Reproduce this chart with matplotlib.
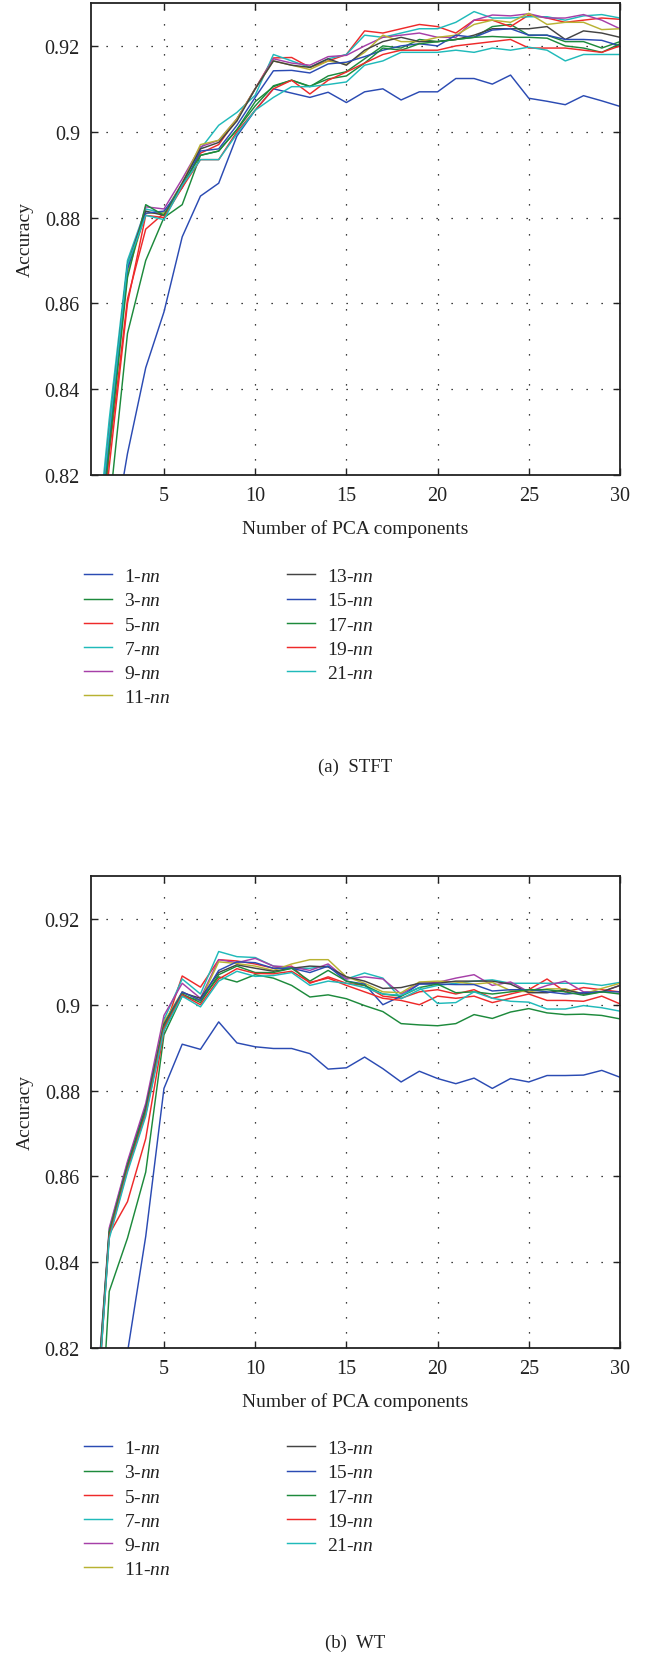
import matplotlib
matplotlib.use('Agg')
from matplotlib import pyplot as plt

plt.rcParams['font.family'] = ['Liberation Serif', 'DejaVu Serif']
plt.rcParams['mathtext.fontset'] = 'custom'
plt.rcParams['mathtext.rm'] = 'Liberation Serif'
plt.rcParams['mathtext.it'] = 'Liberation Serif:italic'

components = list(range(1, 31))
neighbours = [1, 3, 5, 7, 9, 11, 13, 15, 17, 19, 21]

# accuracy of each k-nn classifier for 1..30 PCA components
stft = {
    1: [0.760, 0.800, 0.825, 0.845, 0.858, 0.8755, 0.885, 0.888, 0.899, 0.905, 0.910, 0.909, 0.908, 0.9092, 0.9068,
        0.9093, 0.910, 0.9074, 0.9093, 0.9093, 0.9124, 0.9124, 0.9111, 0.9132, 0.9078, 0.9071, 0.9063, 0.9084, 0.9072, 0.9059],
    3: [0.770, 0.812, 0.853, 0.870, 0.880, 0.883, 0.8945, 0.8955, 0.9005, 0.907, 0.9105, 0.912, 0.9105, 0.913, 0.914,
        0.917, 0.920, 0.9195, 0.9215, 0.921, 0.9215, 0.922, 0.9245, 0.925, 0.9225, 0.9225, 0.921, 0.921, 0.9195, 0.921],
    5: [0.780, 0.825, 0.861, 0.8773, 0.881, 0.887, 0.895, 0.897, 0.903, 0.910, 0.9172, 0.9173, 0.915, 0.9165, 0.918,
        0.9235, 0.923, 0.924, 0.925, 0.9245, 0.923, 0.926, 0.926, 0.9245, 0.9272, 0.9265, 0.9255, 0.926, 0.9265, 0.9262],
    7: [0.790, 0.833, 0.870, 0.882, 0.881, 0.888, 0.896, 0.9015, 0.9045, 0.9085, 0.918, 0.9165, 0.915, 0.917, 0.918,
        0.9225, 0.922, 0.923, 0.924, 0.924, 0.9255, 0.928, 0.9265, 0.9265, 0.9268, 0.9268, 0.926, 0.927, 0.9273, 0.9265],
    9: [0.788, 0.830, 0.868, 0.8825, 0.882, 0.889, 0.8965, 0.898, 0.903, 0.910, 0.917, 0.916, 0.9155, 0.9175, 0.9178,
        0.920, 0.922, 0.9225, 0.923, 0.922, 0.922, 0.926, 0.9272, 0.927, 0.9275, 0.9265, 0.9265, 0.9273, 0.926, 0.924],
    11: [0.786, 0.828, 0.867, 0.881, 0.881, 0.888, 0.897, 0.898, 0.903, 0.910, 0.9165, 0.9155, 0.9145, 0.9165, 0.9157,
         0.9185, 0.9225, 0.921, 0.921, 0.922, 0.9225, 0.925, 0.926, 0.9255, 0.9276, 0.925, 0.9255, 0.9255, 0.9238, 0.924],
    13: [0.788, 0.830, 0.869, 0.8815, 0.8805, 0.888, 0.896, 0.8975, 0.9025, 0.910, 0.9165, 0.9155, 0.915, 0.917, 0.9155,
         0.919, 0.921, 0.922, 0.921, 0.921, 0.9215, 0.9225, 0.924, 0.924, 0.924, 0.9245, 0.9215, 0.9235, 0.923, 0.922],
    15: [0.786, 0.828, 0.868, 0.881, 0.8815, 0.887, 0.8955, 0.896, 0.9015, 0.908, 0.9142, 0.9143, 0.9137, 0.9158, 0.9162,
         0.9175, 0.919, 0.920, 0.9205, 0.920, 0.9225, 0.922, 0.9237, 0.924, 0.9225, 0.9225, 0.9215, 0.9215, 0.9213, 0.920],
    17: [0.785, 0.826, 0.866, 0.8830, 0.8805, 0.8875, 0.8945, 0.8955, 0.9005, 0.906, 0.9107, 0.912, 0.9106, 0.9123, 0.913,
         0.916, 0.9195, 0.919, 0.9205, 0.921, 0.9215, 0.922, 0.9222, 0.922, 0.922, 0.9218, 0.920, 0.9195, 0.9185, 0.9205],
    19: [0.780, 0.822, 0.860, 0.8805, 0.880, 0.887, 0.8935, 0.8935, 0.900, 0.905, 0.910, 0.912, 0.9088, 0.912, 0.9139,
         0.916, 0.918, 0.919, 0.919, 0.919, 0.920, 0.9205, 0.921, 0.9215, 0.9195, 0.9195, 0.9195, 0.919, 0.9185, 0.920],
    21: [0.790, 0.830, 0.869, 0.8805, 0.8795, 0.8875, 0.8935, 0.8935, 0.8995, 0.905, 0.908, 0.9105, 0.9105, 0.911, 0.9116,
         0.9155, 0.9165, 0.9185, 0.9185, 0.9185, 0.919, 0.9185, 0.9195, 0.919, 0.9197, 0.919, 0.9165, 0.918, 0.918, 0.918],
}

wt = {
    1: [0.760, 0.790, 0.819, 0.846, 0.8805, 0.8908, 0.8896, 0.8960, 0.8911, 0.8902, 0.8898, 0.8898, 0.8886, 0.8850, 0.8853,
        0.8878, 0.8851, 0.8820, 0.8845, 0.8828, 0.8816, 0.8829, 0.8805, 0.8828, 0.8820, 0.8835, 0.8835, 0.8836, 0.8847, 0.8831],
    3: [0.761, 0.8332, 0.8456, 0.8610, 0.8930, 0.9020, 0.9010, 0.9065, 0.9053, 0.9070, 0.9062, 0.9045, 0.9018, 0.9023, 0.9014,
        0.8998, 0.8984, 0.8956, 0.8953, 0.8951, 0.8956, 0.8977, 0.8968, 0.8983, 0.8991, 0.8981, 0.8977, 0.8978, 0.8975, 0.8967],
    5: [0.785, 0.8465, 0.8541, 0.8688, 0.8940, 0.9067, 0.9041, 0.9105, 0.9102, 0.9095, 0.9085, 0.9090, 0.9050, 0.9065, 0.9050,
        0.9045, 0.9020, 0.9015, 0.9030, 0.9035, 0.9025, 0.9035, 0.9015, 0.9025, 0.9035, 0.9060, 0.9030, 0.9040, 0.9035, 0.9030],
    7: [0.790, 0.8475, 0.8630, 0.8760, 0.8965, 0.9060, 0.9025, 0.9124, 0.9112, 0.9110, 0.9090, 0.9085, 0.9085, 0.9090, 0.9060,
        0.9074, 0.9062, 0.9014, 0.9035, 0.9045, 0.9050, 0.9055, 0.9058, 0.9050, 0.9050, 0.9050, 0.9050, 0.9050, 0.9045, 0.9052],
    9: [0.790, 0.8480, 0.8635, 0.8770, 0.8975, 0.9050, 0.9015, 0.9105, 0.9098, 0.9108, 0.9090, 0.9088, 0.9080, 0.9095, 0.9060,
        0.9065, 0.9060, 0.9025, 0.9049, 0.9052, 0.9062, 0.9070, 0.9045, 0.9053, 0.9030, 0.9045, 0.9055, 0.9030, 0.9030, 0.9045],
    11: [0.789, 0.8470, 0.8620, 0.8750, 0.8960, 0.9030, 0.9010, 0.9100, 0.9096, 0.9090, 0.9080, 0.9095, 0.9105, 0.9105, 0.9065,
         0.9050, 0.9030, 0.9028, 0.9053, 0.9055, 0.9053, 0.9048, 0.9052, 0.9033, 0.9030, 0.9037, 0.9037, 0.9025, 0.9038, 0.9050],
    13: [0.789, 0.8470, 0.8625, 0.8760, 0.8955, 0.9028, 0.9015, 0.9075, 0.9093, 0.9085, 0.9078, 0.9085, 0.9090, 0.9088, 0.9065,
         0.9055, 0.9038, 0.9040, 0.9050, 0.9050, 0.9055, 0.9055, 0.9055, 0.9048, 0.9028, 0.9028, 0.9035, 0.9025, 0.9030, 0.9045],
    15: [0.788, 0.8465, 0.8620, 0.8755, 0.8950, 0.9030, 0.9010, 0.9080, 0.9100, 0.9098, 0.9085, 0.9085, 0.9075, 0.9090, 0.9055,
         0.9048, 0.9000, 0.9020, 0.9048, 0.9048, 0.9047, 0.9047, 0.9032, 0.9035, 0.9035, 0.9030, 0.9025, 0.9028, 0.9030, 0.9030],
    17: [0.788, 0.8470, 0.8625, 0.8755, 0.8950, 0.9025, 0.9005, 0.9070, 0.9090, 0.9075, 0.9075, 0.9085, 0.9055, 0.9080, 0.9055,
         0.9045, 0.9025, 0.9020, 0.9040, 0.9048, 0.9028, 0.9030, 0.9025, 0.9030, 0.9035, 0.9035, 0.9030, 0.9022, 0.9030, 0.9025],
    19: [0.786, 0.8460, 0.8615, 0.8745, 0.8945, 0.9023, 0.9000, 0.9060, 0.9084, 0.9073, 0.9072, 0.9078, 0.9052, 0.9062, 0.9045,
         0.9030, 0.9015, 0.9010, 0.9000, 0.9020, 0.9015, 0.9020, 0.9005, 0.9015, 0.9025, 0.9010, 0.9010, 0.9008, 0.9020, 0.9002],
    21: [0.786, 0.8455, 0.8610, 0.8740, 0.8940, 0.9020, 0.8995, 0.9055, 0.9078, 0.9066, 0.9068, 0.9075, 0.9045, 0.9055, 0.9050,
         0.9040, 0.9025, 0.9022, 0.9040, 0.9003, 0.9005, 0.9030, 0.9015, 0.9008, 0.9006, 0.8990, 0.8990, 0.8998, 0.8993, 0.8985],
}

y_ticks = [0.82, 0.84, 0.86, 0.88, 0.9, 0.92]
y_tick_labels = ['0.82', '0.84', '0.86', '0.88', '0.9', '0.92']
x_ticks = [5, 10, 15, 20, 25, 30]

# MATLAB style colour order, repeats after seven lines
colours = ['#2b4bb3', '#1d8a3c', '#ee2a2a', '#20baba', '#a63fa8', '#b8b232', '#444444']

fig = plt.figure(figsize=(6.46, 16.56), dpi=100)
W, H = 646.0, 1656.0


def panel(top, data, caption, caption_y, legend_y):
    ax = fig.add_axes([91 / W, 1 - (top + 472) / H, 529 / W, 472 / H])
    for i, k in enumerate(neighbours):
        ax.plot(components, data[k], color=colours[i % len(colours)], linewidth=1.05,
                label='%d-$\\mathit{nn}$' % k)
    ax.set_xlim(1, 30)
    ax.set_ylim(0.82, 0.93)
    ax.set_xticks(x_ticks)
    ax.set_yticks(y_ticks)
    ax.set_yticklabels(y_tick_labels)
    ax.grid(True, color='black', linestyle=(0, (1, 11)), linewidth=0.9)
    ax.tick_params(direction='in', length=5, width=1, top=True, right=True,
                   labelsize=14.5, pad=8, colors='#222222')
    for s in ax.spines.values():
        s.set_linewidth(1.3)
        s.set_color('#222222')
    ax.set_xlabel('Number of PCA components', fontsize=14, color='#222222', labelpad=10)
    ax.set_ylabel('Accuracy', fontsize=14, color='#222222', labelpad=8)
    handles, labels = ax.get_legend_handles_labels()
    fig.legend(handles, labels, ncol=2, frameon=False, fontsize=14,
               loc='upper left', bbox_to_anchor=(66 / W, 1 - legend_y / H),
               handlelength=1.45, handletextpad=0.62, columnspacing=6.0,
               labelspacing=0.34, labelcolor='#222222')
    fig.text(355 / W, 1 - caption_y / H, caption, ha='center', va='center',
             fontsize=13.5, color='#222222')


panel(4, stft, '(a)  STFT', 767, 551)
panel(877, wt, '(b)  WT', 1643, 1423)

fig.savefig('out.png', dpi=100, facecolor='white')
